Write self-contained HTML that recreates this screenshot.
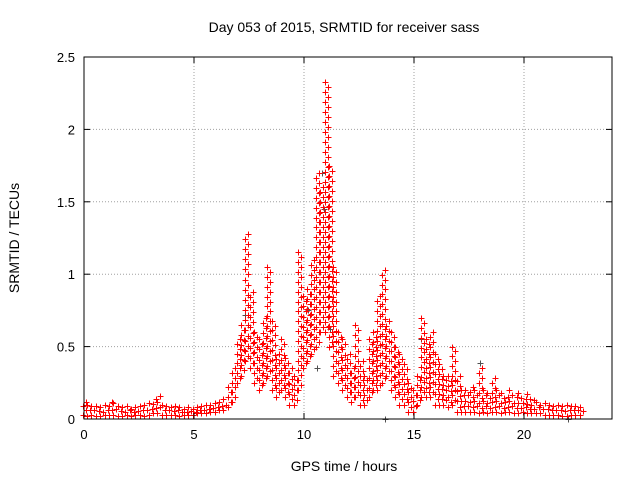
<!DOCTYPE html>
<html><head><meta charset="utf-8"><style>
body{margin:0;background:#fff;}
svg{display:block;font-family:"Liberation Sans",sans-serif;}
</style></head><body>
<svg id="chart" width="640" height="480" viewBox="0 0 640 480">
<rect width="640" height="480" fill="#fff"/>
<g id="grid"></g><g id="marks"></g><g id="axes"></g>
</svg>
<script>
const hours=[0,0.2,0.4,0.6,0.8,1,1.2,1.4,1.6,1.8,2,2.2,2.4,2.6,2.8,3,3.2,3.4,3.6,3.8,4,4.2,4.4,4.6,4.8,5,5.2,5.4,5.6,5.8,6,6.2,6.4,6.6,6.8,7,7.2,7.4,7.6,7.8,8,8.2,8.4,8.6,8.8,9,9.2,9.4,9.6,9.8,10,10.2,10.4,10.6,10.8,11,11.2,11.4,11.6,11.8,12,12.2,12.4,12.6,12.8,13,13.2,13.4,13.6,13.8,14,14.2,14.4,14.6,14.8,15,15.2,15.4,15.6,15.8,16,16.2,16.4,16.6,16.8,17,17.2,17.4,17.6,17.8,18,18.2,18.4,18.6,18.8,19,19.2,19.4,19.6,19.8,20,20.2,20.4,20.6,20.8,21,21.2,21.4,21.6,21.8,22,22.2,22.4,22.6];
const lowVals=[0.03,0.02,0.03,0.02,0.02,0.03,0.03,0.03,0.02,0.02,0.03,0.02,0.03,0.03,0.02,0.03,0.04,0.04,0.03,0.03,0.03,0.03,0.02,0.03,0.03,0.03,0.04,0.04,0.04,0.05,0.05,0.06,0.06,0.08,0.12,0.25,0.3,0.4,0.35,0.25,0.2,0.25,0.3,0.2,0.15,0.2,0.15,0.1,0.1,0.2,0.35,0.4,0.45,0.5,0.6,0.6,0.5,0.3,0.25,0.2,0.15,0.12,0.15,0.1,0.1,0.15,0.2,0.2,0.25,0.3,0.2,0.15,0.1,0.1,0.05,0.05,0.1,0.15,0.15,0.15,0.1,0.1,0.1,0.08,0.1,0.05,0.05,0.05,0.05,0.05,0.04,0.05,0.04,0.05,0.05,0.04,0.05,0.05,0.04,0.04,0.05,0.04,0.04,0.04,0.04,0.03,0.03,0.03,0.03,0.02,0.02,0.03,0.03,0.03];
const highVals=[0.12,0.1,0.09,0.09,0.08,0.1,0.12,0.11,0.09,0.08,0.09,0.07,0.08,0.09,0.1,0.11,0.14,0.16,0.1,0.09,0.08,0.09,0.08,0.07,0.08,0.07,0.08,0.09,0.1,0.1,0.11,0.12,0.14,0.22,0.35,0.55,0.65,1.28,0.88,0.6,0.55,0.7,1.05,0.68,0.45,0.55,0.42,0.35,0.3,1.15,0.85,0.9,1.1,1.7,1.6,2.33,1.75,1.05,0.6,0.55,0.45,0.35,0.65,0.4,0.3,0.55,0.6,0.85,1.03,0.68,0.6,0.5,0.45,0.38,0.25,0.2,0.3,0.7,0.55,0.6,0.45,0.38,0.3,0.3,0.5,0.3,0.2,0.2,0.22,0.2,0.35,0.2,0.18,0.28,0.2,0.18,0.15,0.2,0.15,0.18,0.14,0.17,0.13,0.12,0.1,0.11,0.1,0.09,0.1,0.09,0.1,0.09,0.09,0.08];
const grayHours=[10.8,10.6,13.7,18.0,11.2,10.2,7.3,22.0,10.9,15.3];
const grayVals=[1.7,0.35,0.0,0.39,0.62,0.75,0.72,0.0,1.45,0.55];
const xTicks=[0,5,10,15,20];
const yTicks=[0,0.5,1,1.5,2,2.5];
const yTickLabels=["0","0.5","1","1.5","2","2.5"];

const NS="http://www.w3.org/2000/svg";
const L=84,R=612,T=57,B=419,XMAX=24,YMAX=2.5;
const xs=v=>L+(R-L)*v/XMAX, ys=v=>B-(B-T)*v/YMAX;
function mk(tag,attrs,parent){const e=document.createElementNS(NS,tag);for(const k in attrs)e.setAttribute(k,attrs[k]);parent.appendChild(e);return e;}
const grid=document.getElementById('grid'),marks=document.getElementById('marks'),axes=document.getElementById('axes');
xTicks.forEach(t=>{if(t>0){const g=mk('line',{x1:xs(t),x2:xs(t),y1:T,y2:B,stroke:'#a0a0a0','stroke-dasharray':'1,2'},grid);

}
const lb=mk('text',{x:xs(t),y:B+20,'text-anchor':'middle','font-size':'13',fill:'#000'},axes);lb.textContent=t;


mk('line',{x1:xs(t),x2:xs(t),y1:B,y2:B-6,stroke:'#000'},axes);mk('line',{x1:xs(t),x2:xs(t),y1:T,y2:T+6,stroke:'#000'},axes);});
yTicks.forEach((t,i)=>{if(t>0&&t<YMAX){const g=mk('line',{x1:L,x2:R,y1:ys(t),y2:ys(t),stroke:'#a0a0a0','stroke-dasharray':'1,2'},grid);

}
const lb=mk('text',{x:L-9,y:ys(t)+5,'text-anchor':'end','font-size':'13',fill:'#000'},axes);lb.textContent=yTickLabels[i];


mk('line',{x1:L,x2:L+6,y1:ys(t),y2:ys(t),stroke:'#000'},axes);mk('line',{x1:R,x2:R-6,y1:ys(t),y2:ys(t),stroke:'#000'},axes);});
function plus(x,y,c,name){x=Math.round(x)+0.5;y=Math.round(y)+0.5;
const p=mk('path',{d:`M${x-3},${y}h6M${x},${y-3}v6`,stroke:c,'stroke-width':'1',fill:'none','shape-rendering':'crispEdges'},marks);

}
grayHours.forEach((h,i)=>plus(xs(h),ys(grayVals[i]),'#505050','gray-point'));
hours.forEach((h,i)=>{const lo=lowVals[i],hi=highVals[i];const n=Math.max(2,Math.round((ys(lo)-ys(hi))/5));
for(let k=0;k<=n;k++){const v=lo+(hi-lo)*k/n;plus(xs(h)+((k%2)?1.5:-1.5),ys(v),'#ff0000','srmtid-point');}});
const fr=mk('rect',{x:L,y:T,width:R-L,height:B-T,fill:'none',stroke:'#000'},axes);


const ti=mk('text',{x:344,y:32,'text-anchor':'middle','font-size':'14',fill:'#000'},axes);ti.textContent='Day 053 of 2015, SRMTID for receiver sass';


const xl=mk('text',{x:344,y:471,'text-anchor':'middle','font-size':'14',fill:'#000'},axes);xl.textContent='GPS time / hours';


const yl=mk('text',{x:0,y:0,'text-anchor':'middle','font-size':'14',fill:'#000',transform:'translate(19,238) rotate(-90)'},axes);yl.textContent='SRMTID / TECUs';


</script>
</body></html>
